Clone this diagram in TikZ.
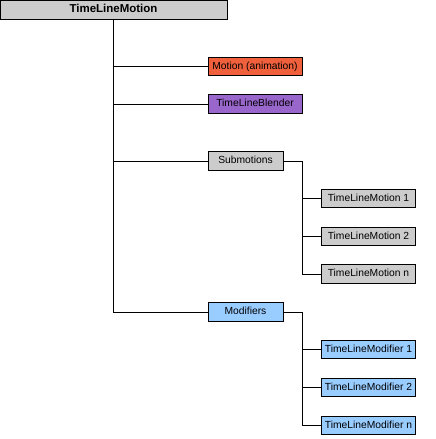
\documentclass[tikz,border=0pt]{standalone}
\usepackage{fontspec}
\setmainfont{Liberation Sans}
\begin{document}
\begin{tikzpicture}[x=1pt,y=-1pt,line width=1pt,
  box/.style={draw=black,inner sep=0pt,font=\fontsize{10.3}{12}\selectfont,text height=7.6pt,text depth=2.2pt},
  wide/.style={box,minimum width=94pt,minimum height=18.5pt},
  mid/.style={box,minimum width=75pt,minimum height=18.5pt},
  conn/.style={draw=black,line width=1pt}]
\useasboundingbox (0,0) rectangle (436,439);
\definecolor{cgray}{HTML}{CCCCCC}
\definecolor{corange}{HTML}{F0603C}
\definecolor{cpurple}{HTML}{9966CC}
\definecolor{cblue}{HTML}{99CCFF}
\node[box,fill=cgray,minimum width=227pt,minimum height=18.5pt,font=\bfseries\fontsize{11.5}{13}\selectfont,text height=8.2pt] (root) at (113.5,9.75) {TimeLineMotion};
\node[wide,fill=corange] (motion) at (255,66.5) {Motion (animation)};
\node[wide,fill=cpurple] (blend) at (255,104) {TimeLineBlender};
\node[mid,fill=cgray] (sub) at (245.5,161) {Submotions};
\node[wide,fill=cgray] (tlm1) at (368.5,198.5) {TimeLineMotion 1};
\node[wide,fill=cgray] (tlm2) at (368.5,236.5) {TimeLineMotion 2};
\node[wide,fill=cgray] (tlmn) at (368.5,274) {TimeLineMotion n};
\node[mid,fill=cblue] (mods) at (245.5,312) {Modifiers};
\node[wide,fill=cblue] (mod1) at (368.5,349.5) {TimeLineModifier 1};
\node[wide,fill=cblue] (mod2) at (368.5,387.5) {TimeLineModifier 2};
\node[wide,fill=cblue] (modn) at (368.5,425.5) {TimeLineModifier n};
\coordinate (sbus) at (302,161);
\coordinate (mbus) at (302,312);
% trunk
\draw[conn] (root.south) |- (mods.west);
\draw[conn] (root.south |- motion.west) -- (motion.west);
\draw[conn] (root.south |- blend.west) -- (blend.west);
\draw[conn] (root.south |- sub.west) -- (sub.west);
% submotions
\draw[conn] (sub.east) -- (sbus) |- (tlmn.west);
\draw[conn] (sbus |- tlm1.west) -- (tlm1.west);
\draw[conn] (sbus |- tlm2.west) -- (tlm2.west);
% modifiers
\draw[conn] (mods.east) -- (mbus) |- (modn.west);
\draw[conn] (mbus |- mod1.west) -- (mod1.west);
\draw[conn] (mbus |- mod2.west) -- (mod2.west);
\end{tikzpicture}
\end{document}
